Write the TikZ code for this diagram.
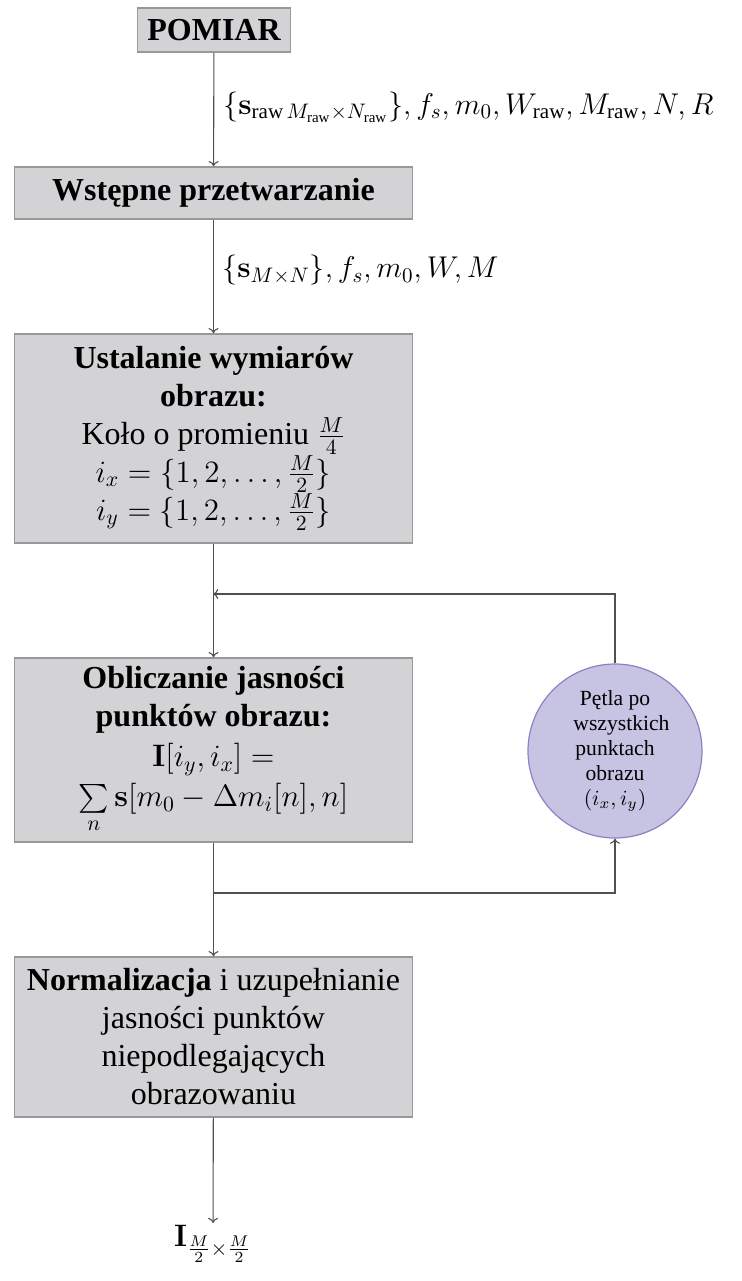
\RequirePackage{fix-cm}
\documentclass[tikz,border=0pt]{standalone}
\usepackage{amsmath}
\usepackage[no-math]{fontspec}
\setmainfont{Liberation Serif}
\usetikzlibrary{arrows.meta}
\definecolor{boxfill}{RGB}{211,211,214}
\definecolor{boxdraw}{RGB}{152,152,152}
\definecolor{circfill}{RGB}{199,195,227}
\definecolor{circdraw}{RGB}{140,130,195}
\definecolor{linecol}{RGB}{80,80,80}
\newcommand{\mline}[1]{{\fontsize{15.5}{19}\selectfont$#1$}}
\begin{document}
\begin{tikzpicture}[x=0.5pt,y=-0.5pt,
  box/.style={draw=boxdraw, fill=boxfill, line width=0.75pt, text width=190pt,
    align=flush center, inner xsep=4.5pt, inner ysep=2pt, anchor=center,
    font=\fontsize{16}{19}\selectfont},
  topbox/.style={draw=boxdraw, fill=boxfill, line width=0.75pt, inner xsep=5pt,
    minimum height=22pt, font=\fontsize{16}{19}\selectfont\bfseries},
  loopc/.style={circle, draw=circdraw, fill=circfill, line width=0.6pt,
    minimum size=87pt, inner sep=0pt, align=flush center,
    font=\fontsize{10.8}{12.5}\selectfont},
  lbl/.style={anchor=west, inner sep=0pt, font=\fontsize{15}{19}\selectfont},
  conn/.style={draw=linecol, line width=0.55pt, -{To[length=2.6pt,width=5pt]}}
]
\useasboundingbox (0,0) rectangle (742,1281);

\node[topbox] (pom) at (214,30) {POMIAR};
\node[box, minimum height=26pt] (wst) at (213.5,193) {\textbf{Wstępne przetwarzanie}};
\node[box, minimum height=104.5pt] (ust) at (213.5,438.5) {\textbf{Ustalanie wymiarów\\ obrazu:}\\ Koło o promieniu \mline{\frac{M}{4}}\\ \mline{i_x=\{1,2,\ldots,\frac{M}{2}\}}\\ \mline{i_y=\{1,2,\ldots,\frac{M}{2}\}}};
\node[box, minimum height=92pt] (obl) at (213.5,750) {\textbf{Obliczanie jasności\\ punktów obrazu:}\\[1pt] \mline{\mathbf{I}[i_y,i_x]=}\\[1pt] \mline{\sum\limits_n \mathbf{s}[m_0-\Delta m_i[n],n]}};
\node[box, minimum height=80pt] (nor) at (213.5,1037) {\textbf{Normalizacja} i uzupełnianie\\ jasności punktów\\ niepodlegających\\ obrazowaniu};
\node[loopc] (pet) at (615,751) {Pętla po\\ \hspace*{0.6em}wszystkich\\ punktach\\ obrazu\\ $(i_x,i_y)$};
\node[anchor=north, inner sep=1pt, font=\fontsize{15.5}{19}\selectfont] (out) at (213,1223) {$\mathbf{I}_{\frac{M}{2}\times\frac{M}{2}}$};

\node[lbl] (l1) at (223,107) {$\{\mathbf{s}_{\text{raw}\,M_{\text{raw}}\times N_{\text{raw}}}\}, f_s, m_0, W_{\text{raw}}, M_{\text{raw}}, N, R$};
\node[lbl] (l2) at (222,270) {$\{\mathbf{s}_{M\times N}\}, f_s, m_0, W, M$};

\coordinate (j1) at (213,594);
\coordinate (j2) at (213,893);

\draw[conn] (pom) -- (wst);
\draw[conn] (wst) -- (ust);
\draw[conn] (ust) -- (obl);
\draw[conn] (pet.north) |- (j1);
\draw[conn] (j2) -| (pet.south);
\draw[conn] (obl) -- (nor);
\draw[conn] (nor) -- (out);
\end{tikzpicture}
\end{document}
